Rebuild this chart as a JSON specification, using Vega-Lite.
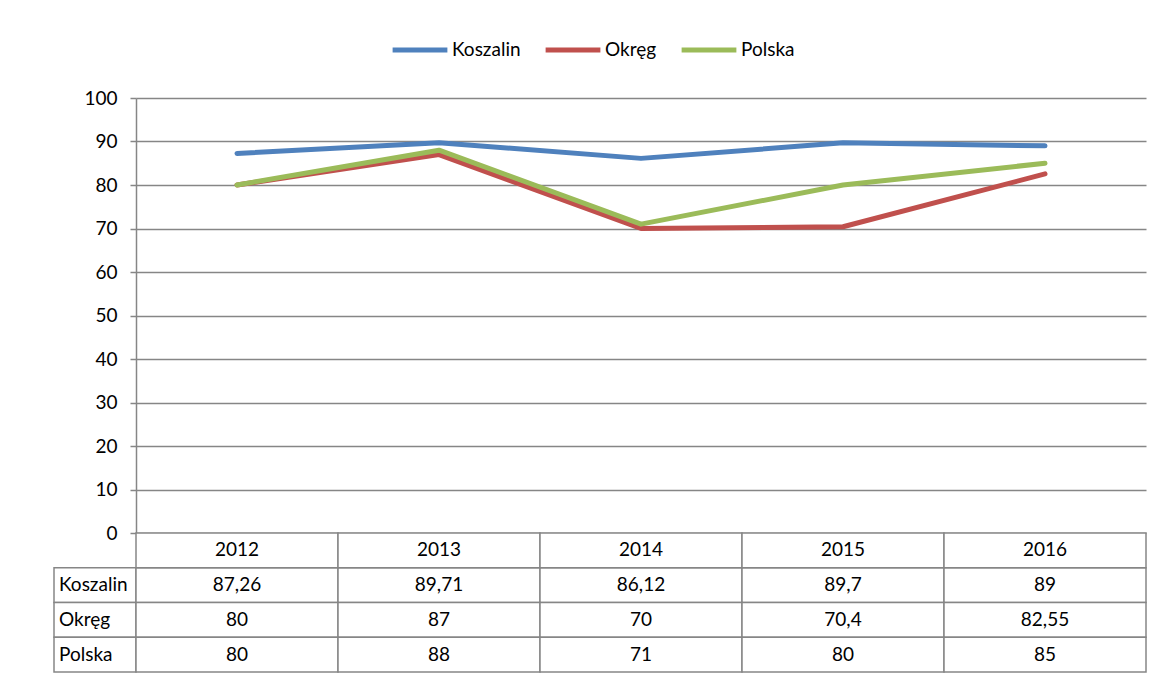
{
  "$schema": "https://vega.github.io/schema/vega-lite/v6.json",
  "padding": {"left": 53, "top": 20, "right": 0, "bottom": 0},
  "autosize": {"type": "pad"},
  "config": {
    "font": "Lato",
    "view": {"stroke": null},
    "locale": {"number": {"decimal": ",", "thousands": " ", "grouping": [3], "currency": ["", " zł"]}}
  },
  "datasets": {
    "series": [
      {"year": 2012, "series": "Koszalin", "value": 87.26},
      {"year": 2013, "series": "Koszalin", "value": 89.71},
      {"year": 2014, "series": "Koszalin", "value": 86.12},
      {"year": 2015, "series": "Koszalin", "value": 89.7},
      {"year": 2016, "series": "Koszalin", "value": 89},
      {"year": 2012, "series": "Okręg", "value": 80},
      {"year": 2013, "series": "Okręg", "value": 87},
      {"year": 2014, "series": "Okręg", "value": 70},
      {"year": 2015, "series": "Okręg", "value": 70.4},
      {"year": 2016, "series": "Okręg", "value": 82.55},
      {"year": 2012, "series": "Polska", "value": 80},
      {"year": 2013, "series": "Polska", "value": 88},
      {"year": 2014, "series": "Polska", "value": 71},
      {"year": 2015, "series": "Polska", "value": 80},
      {"year": 2016, "series": "Polska", "value": 85}
    ]
  },
  "columns": 2,
  "spacing": 0,
  "bounds": "flush",
  "align": "each",
  "resolve": {"scale": {"x": "independent", "y": "independent"}},
  "concat": [
    {
      "width": 82,
      "height": 435,
      "data": {"name": "series"},
      "mark": {"type": "text", "opacity": 0},
      "encoding": {"text": {"value": ""}}
    },
    {
      "width": 1010,
      "height": 435,
      "data": {"name": "series"},
      "mark": {"type": "line", "strokeWidth": 5, "strokeCap": "round", "strokeJoin": "round"},
      "encoding": {
        "x": {"field": "year", "type": "ordinal", "scale": {"type": "point", "padding": 0.5}, "axis": null},
        "y": {
          "field": "value",
          "type": "quantitative",
          "scale": {"domain": [0, 100], "nice": false},
          "axis": {
            "values": [0, 10, 20, 30, 40, 50, 60, 70, 80, 90, 100],
            "title": null,
            "grid": true,
            "gridColor": "#868686",
            "gridWidth": 1.5,
            "gridOpacity": 1,
            "domainColor": "#868686",
            "domainWidth": 1.5,
            "tickColor": "#868686",
            "tickWidth": 1.5,
            "tickSize": 6,
            "labelFontSize": 19,
            "labelFont": "Lato",
            "labelColor": "#000000",
            "labelPadding": 13
          }
        },
        "color": {
          "field": "series",
          "type": "nominal",
          "scale": {"domain": ["Koszalin", "Okręg", "Polska"], "range": ["#4F81BD", "#C0504D", "#9BBB59"]},
          "legend": {
            "orient": "none",
            "legendX": 336,
            "legendY": -78,
            "direction": "horizontal",
            "title": null,
            "symbolType": "stroke",
            "symbolSize": 3000,
            "symbolStrokeWidth": 5,
            "labelFontSize": 19,
            "labelFont": "Lato",
            "labelColor": "#000000",
            "labelOffset": 2,
            "columnPadding": 14
          }
        }
      }
    },
    {
      "width": 82,
      "height": 139,
      "data": {"name": "series"},
      "transform": [{"aggregate": [{"op": "count", "as": "n"}], "groupby": ["series"]}],
      "encoding": {
        "y": {"field": "series", "type": "nominal", "scale": {"domain": ["header", "Koszalin", "Okręg", "Polska"], "paddingInner": 0, "paddingOuter": 0}, "axis": null}
      },
      "layer": [
        {
          "mark": {"type": "rect", "fill": "white", "stroke": "#868686", "strokeWidth": 1.5},
          "encoding": {
            "x": {"datum": 0, "type": "quantitative", "scale": {"domain": [0, 1]}, "axis": null},
            "x2": {"datum": 1}
          }
        },
        {
          "mark": {"type": "text", "align": "left", "dx": 5, "fontSize": 19, "font": "Lato", "color": "#000000"},
          "encoding": {
            "x": {"datum": 0, "type": "quantitative"},
            "text": {"field": "series", "type": "nominal"}
          }
        }
      ]
    },
    {
      "width": 1010,
      "height": 139,
      "data": {"name": "series"},
      "encoding": {
        "x": {"field": "year", "type": "ordinal", "scale": {"type": "band", "paddingInner": 0, "paddingOuter": 0}, "axis": null}
      },
      "layer": [
        {
          "mark": {"type": "rect", "fill": "white", "stroke": "#868686", "strokeWidth": 1.5},
          "encoding": {
            "y": {"field": "series", "type": "nominal", "scale": {"domain": ["header", "Koszalin", "Okręg", "Polska"], "paddingInner": 0, "paddingOuter": 0}, "axis": null}
          }
        },
        {
          "mark": {"type": "text", "fontSize": 19, "font": "Lato", "color": "#000000"},
          "encoding": {
            "y": {"field": "series", "type": "nominal"},
            "text": {"field": "value", "type": "quantitative", "format": "~f"}
          }
        },
        {
          "transform": [{"aggregate": [{"op": "count", "as": "n"}], "groupby": ["year"]}],
          "mark": {"type": "rect", "fill": "white", "stroke": "#868686", "strokeWidth": 1.5},
          "encoding": {
            "y": {"datum": "header", "type": "nominal"}
          }
        },
        {
          "transform": [{"aggregate": [{"op": "count", "as": "n"}], "groupby": ["year"]}],
          "mark": {"type": "text", "fontSize": 19, "font": "Lato", "color": "#000000"},
          "encoding": {
            "y": {"datum": "header", "type": "nominal"},
            "text": {"field": "year", "type": "ordinal"}
          }
        }
      ]
    }
  ]
}
